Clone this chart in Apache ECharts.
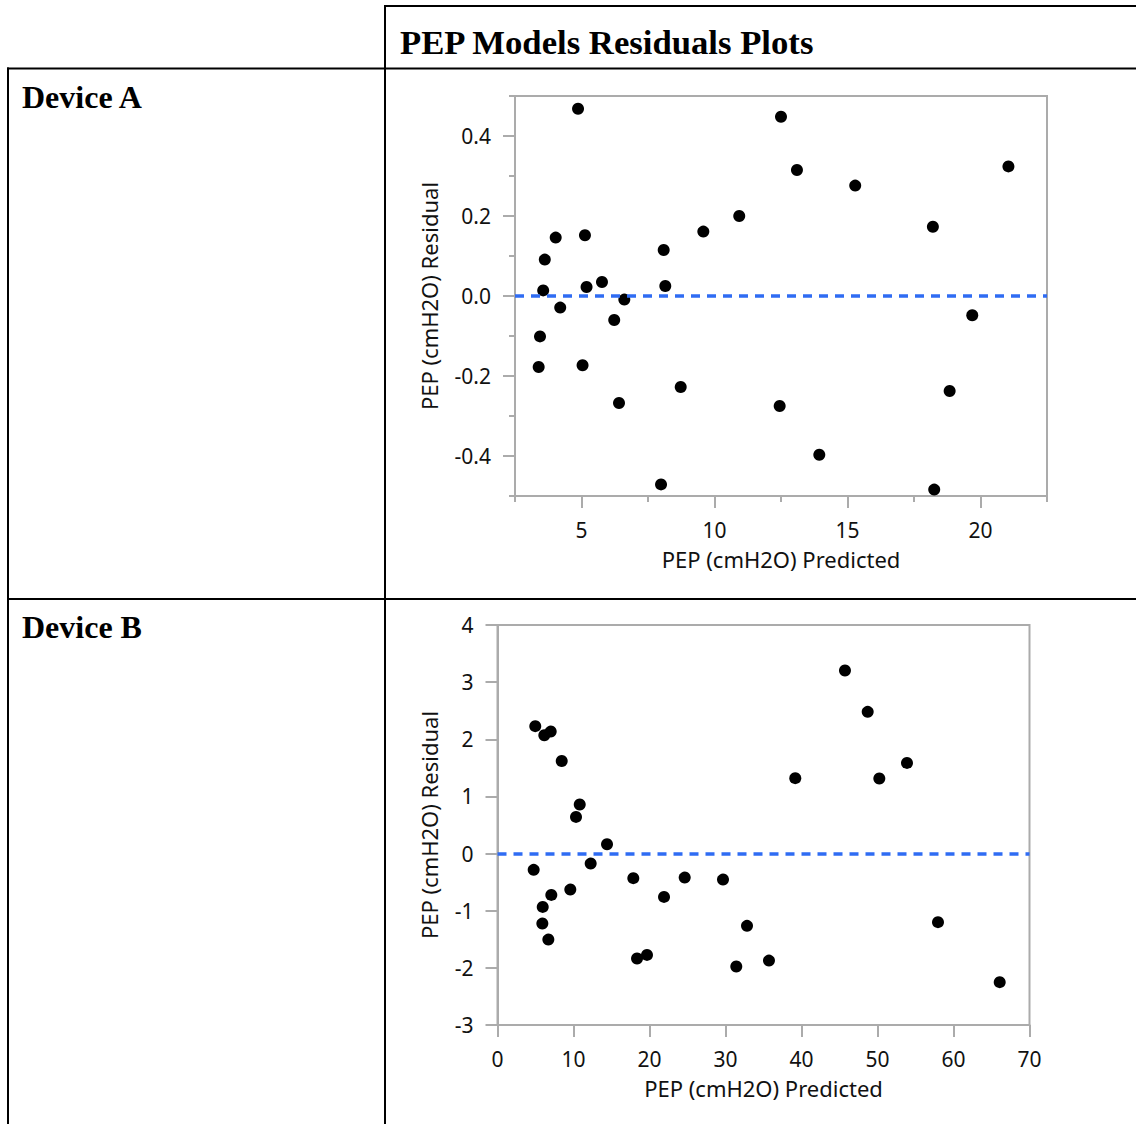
<!DOCTYPE html>
<html>
<head>
<meta charset="utf-8">
<title>PEP Models Residuals Plots</title>
<script src="https://cdn.jsdelivr.net/npm/echarts@6/dist/echarts.min.js"></script>
<style>
  html, body { margin: 0; padding: 0; background: #ffffff; }
  #chart { width: 1136px; height: 1124px; }
</style>
</head>
<body>
<div id="chart"></div>
<script>
// Device A: predicted PEP vs residual (cmH2O)
const deviceAPredicted = [4.87, 4.03, 5.13, 3.62, 3.56, 5.19, 5.77, 4.20, 6.61, 6.23,
  3.44, 3.39, 5.04, 6.41, 8.09, 8.15, 9.58, 10.93, 8.73, 7.99,
  12.50, 13.10, 15.29, 18.21, 21.05, 19.69, 12.45, 13.94, 18.84, 18.26];
const deviceAResidual = [0.468, 0.146, 0.152, 0.091, 0.014, 0.0225, 0.035, -0.029, -0.009, -0.060,
  -0.101, -0.1775, -0.173, -0.2675, 0.115, 0.025, 0.161, 0.200, -0.2275, -0.471,
  0.448, 0.315, 0.276, 0.173, 0.324, -0.048, -0.275, -0.397, -0.2375, -0.484];

// Device B: predicted PEP vs residual (cmH2O)
const deviceBPredicted = [4.97, 6.16, 7.00, 8.45, 10.82, 10.33, 14.41, 12.26, 4.76, 9.58,
  7.08, 5.95, 5.90, 6.69, 17.87, 21.91, 24.63, 29.67, 18.36, 19.67,
  32.83, 31.42, 35.72, 45.72, 48.71, 39.18, 50.24, 53.88, 57.96, 66.08];
const deviceBResidual = [2.23, 2.07, 2.135, 1.62, 0.858, 0.642, 0.164, -0.175, -0.285, -0.63,
  -0.723, -0.933, -1.225, -1.505, -0.43, -0.758, -0.42, -0.455, -1.837, -1.773,
  -1.265, -1.977, -1.873, 3.203, 2.48, 1.32, 1.313, 1.587, -1.2, -2.25];

// Tick positions
const aXLabels = [5, 10, 15, 20];
const aXMinor = [2.5, 7.5, 12.5, 17.5, 22.5];
const aYLabels = [-0.4, -0.2, 0, 0.2, 0.4];
const aYMinor = [-0.5, -0.3, -0.1, 0.1, 0.3, 0.5];

// Text
const tableTitle = 'PEP Models Residuals Plots';
const rowLabels = ['Device A', 'Device B'];
const xTitle = 'PEP (cmH2O) Predicted';
const yTitle = 'PEP (cmH2O) Residual';

const AXIS_GREY = '#ababab';
const TEXT = '#111111';
const SANS = '"Noto Sans", "Open Sans", sans-serif';
const SERIF = '"Liberation Serif", "Times New Roman", serif';
const TICK_FONT = 21;
const NAME_FONT = 22;

function pairs(xs, ys) { return xs.map((x, i) => [x, ys[i]]); }

const axisLineStyle = { show: true, onZero: false, lineStyle: { color: AXIS_GREY, width: 2 } };
const labelStyle = { color: TEXT, fontSize: TICK_FONT, lineHeight: 18, fontFamily: SANS };
const nameStyle = { color: TEXT, fontSize: NAME_FONT, lineHeight: 19, fontFamily: SANS };

function majorX(grid, min, max, opts) {
  return Object.assign({
    gridIndex: grid, type: 'value', position: 'bottom', min: min, max: max,
    axisLine: axisLineStyle,
    axisTick: { show: true, length: 12, lineStyle: { color: AXIS_GREY, width: 2 } },
    axisLabel: Object.assign({ margin: 25 }, labelStyle),
    splitLine: { show: false },
    name: xTitle, nameLocation: 'middle', nameGap: 53.5, nameTextStyle: nameStyle
  }, opts);
}
function majorY(grid, min, max, gap, opts) {
  return Object.assign({
    gridIndex: grid, type: 'value', position: 'left', min: min, max: max,
    axisLine: axisLineStyle,
    axisTick: { show: true, length: 12, lineStyle: { color: AXIS_GREY, width: 2 } },
    axisLabel: Object.assign({ margin: 24 }, labelStyle),
    splitLine: { show: false },
    name: yTitle, nameLocation: 'middle', nameGap: gap, nameTextStyle: nameStyle
  }, opts);
}
function minorAxis(grid, pos, min, max, values) {
  return {
    gridIndex: grid, type: 'value', position: pos, min: min, max: max, offset: 0,
    axisLine: { show: false, onZero: false },
    axisTick: { show: true, length: 6, customValues: values, lineStyle: { color: AXIS_GREY, width: 2 } },
    axisLabel: { show: false },
    splitLine: { show: false }
  };
}

const zeroLine = {
  silent: true,
  symbol: ['none', 'none'],
  label: { show: false },
  lineStyle: { color: '#2f6cf3', width: 3.5, type: [9, 7] },
  data: [{ yAxis: 0 }]
};

const lineStyleTable = { stroke: '#000000', lineWidth: 2 };

const option = {
  animation: false,
  backgroundColor: '#ffffff',
  grid: [
    { left: 515, top: 96, width: 532, height: 400, show: true, borderColor: AXIS_GREY, borderWidth: 2, backgroundColor: 'transparent' },
    { left: 497.5, top: 625, width: 532, height: 400, show: true, borderColor: AXIS_GREY, borderWidth: 2, backgroundColor: 'transparent' }
  ],
  xAxis: [
    majorX(0, 2.5, 22.5, {
      axisTick: { show: true, length: 12, customValues: aXLabels, lineStyle: { color: AXIS_GREY, width: 2 } },
      axisLabel: Object.assign({ margin: 25, customValues: aXLabels }, labelStyle)
    }),
    minorAxis(0, 'bottom', 2.5, 22.5, aXMinor),
    majorX(1, 0, 70, { interval: 10 })
  ],
  yAxis: [
    majorY(0, -0.5, 0.5, 77, {
      axisTick: { show: true, length: 12, customValues: aYLabels, lineStyle: { color: AXIS_GREY, width: 2 } },
      axisLabel: Object.assign({ margin: 24, customValues: aYLabels, formatter: v => Number(v).toFixed(1) }, labelStyle)
    }),
    minorAxis(0, 'left', -0.5, 0.5, aYMinor),
    majorY(1, -3, 4, 59, { interval: 1 })
  ],
  series: [
    {
      type: 'scatter', name: rowLabels[0], xAxisIndex: 0, yAxisIndex: 0,
      data: pairs(deviceAPredicted, deviceAResidual),
      symbol: 'circle', symbolSize: 12,
      itemStyle: { color: '#000000', opacity: 1 },
      markLine: zeroLine, z: 3
    },
    {
      type: 'scatter', name: rowLabels[1], xAxisIndex: 2, yAxisIndex: 2,
      data: pairs(deviceBPredicted, deviceBResidual),
      symbol: 'circle', symbolSize: 12,
      itemStyle: { color: '#000000', opacity: 1 },
      markLine: zeroLine, z: 3
    }
  ],
  graphic: [
    // table rules
    { type: 'line', shape: { x1: 385, y1: 6, x2: 1136, y2: 6 }, style: lineStyleTable, silent: true },
    { type: 'line', shape: { x1: 7, y1: 68.5, x2: 1136, y2: 68.5 }, style: lineStyleTable, silent: true },
    { type: 'line', shape: { x1: 7, y1: 599, x2: 1136, y2: 599 }, style: lineStyleTable, silent: true },
    { type: 'line', shape: { x1: 8, y1: 67.5, x2: 8, y2: 1124 }, style: lineStyleTable, silent: true },
    { type: 'line', shape: { x1: 385, y1: 5, x2: 385, y2: 1124 }, style: lineStyleTable, silent: true },
    // table text
    { type: 'text', x: 400, y: 42.5, style: { text: tableTitle, font: 'bold 34.7px ' + SERIF, fill: '#000000', verticalAlign: 'middle' }, silent: true },
    { type: 'text', x: 22, y: 97, style: { text: rowLabels[0], font: 'bold 32px ' + SERIF, fill: '#000000', verticalAlign: 'middle' }, silent: true },
    { type: 'text', x: 22, y: 627, style: { text: rowLabels[1], font: 'bold 32px ' + SERIF, fill: '#000000', verticalAlign: 'middle' }, silent: true }
  ]
};

const chart = echarts.init(document.getElementById('chart'), null, { renderer: 'svg', width: 1136, height: 1124 });
chart.setOption(option);
</script>
</body>
</html>
